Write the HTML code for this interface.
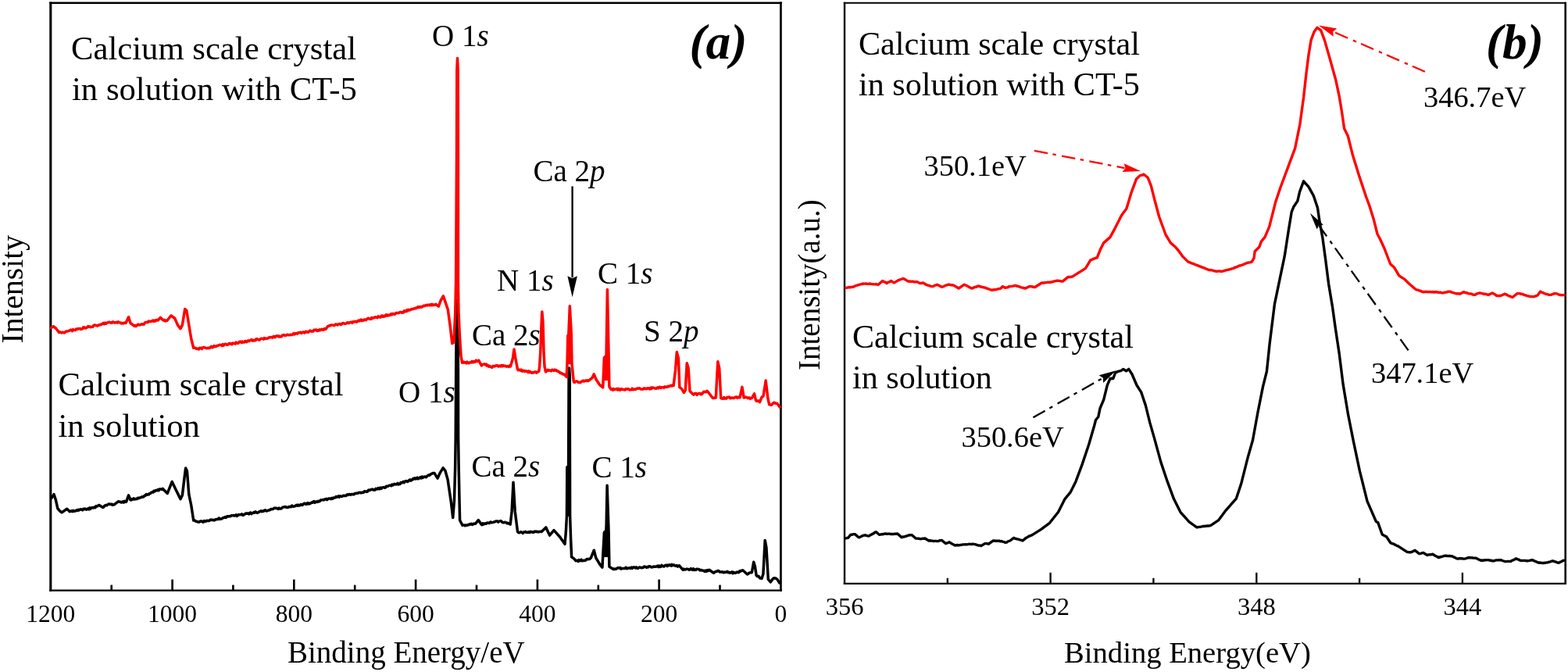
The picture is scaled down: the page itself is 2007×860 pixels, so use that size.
<!DOCTYPE html>
<html><head><meta charset="utf-8"><title>XPS spectra</title>
<style>
html,body{margin:0;padding:0;background:#fff;}
svg{display:block;}
text{font-family:"Liberation Serif","Times New Roman",serif;fill:#000;}
.tk{font-size:31.5px;}
.tkb{font-size:32.5px;}
.big{font-size:42.3px;}
.lb{font-size:38px;}
.ev{font-size:38px;}
.ax{font-size:39px;}
.pl{font-size:60px;font-weight:bold;font-style:italic;}
.k{fill:none;stroke:#000;stroke-width:3.4;stroke-linejoin:round;stroke-linecap:round;}
.r{fill:none;stroke:#f00;stroke-width:3.4;stroke-linejoin:round;stroke-linecap:round;}
</style></head><body>
<svg width="2007" height="860" viewBox="0 0 2007 860">
<rect width="2007" height="860" fill="#fff"/>
<line x1="63.25" y1="3.70" x2="1000.80" y2="3.70" stroke="#000" stroke-width="2.4"/>
<line x1="63.25" y1="755.60" x2="1000.80" y2="755.60" stroke="#000" stroke-width="2.4"/>
<line x1="64.80" y1="2.50" x2="64.80" y2="756.80" stroke="#000" stroke-width="3.1"/>
<line x1="999.40" y1="2.50" x2="999.40" y2="756.80" stroke="#000" stroke-width="2.8"/>
<line x1="1079.80" y1="3.80" x2="2005.00" y2="3.80" stroke="#000" stroke-width="2.1"/>
<line x1="1079.80" y1="746.80" x2="2005.00" y2="746.80" stroke="#000" stroke-width="2.2"/>
<line x1="1081.00" y1="2.75" x2="1081.00" y2="747.90" stroke="#000" stroke-width="2.4"/>
<line x1="2003.70" y1="2.75" x2="2003.70" y2="747.90" stroke="#000" stroke-width="2.6"/>
<line x1="921.5" y1="755.6" x2="921.5" y2="748.6" stroke="#000" stroke-width="2.6"/>
<line x1="843.6" y1="755.6" x2="843.6" y2="741.6" stroke="#000" stroke-width="2.6"/>
<line x1="765.8" y1="755.6" x2="765.8" y2="748.6" stroke="#000" stroke-width="2.6"/>
<line x1="687.9" y1="755.6" x2="687.9" y2="741.6" stroke="#000" stroke-width="2.6"/>
<line x1="610.0" y1="755.6" x2="610.0" y2="748.6" stroke="#000" stroke-width="2.6"/>
<line x1="532.1" y1="755.6" x2="532.1" y2="741.6" stroke="#000" stroke-width="2.6"/>
<line x1="454.2" y1="755.6" x2="454.2" y2="748.6" stroke="#000" stroke-width="2.6"/>
<line x1="376.3" y1="755.6" x2="376.3" y2="741.6" stroke="#000" stroke-width="2.6"/>
<line x1="298.4" y1="755.6" x2="298.4" y2="748.6" stroke="#000" stroke-width="2.6"/>
<line x1="220.6" y1="755.6" x2="220.6" y2="741.6" stroke="#000" stroke-width="2.6"/>
<line x1="142.7" y1="755.6" x2="142.7" y2="748.6" stroke="#000" stroke-width="2.6"/>
<text x="999.4" y="796.2" class="tk" text-anchor="middle">0</text>
<text x="843.6" y="796.2" class="tk" text-anchor="middle">200</text>
<text x="687.9" y="796.2" class="tk" text-anchor="middle">400</text>
<text x="532.1" y="796.2" class="tk" text-anchor="middle">600</text>
<text x="376.3" y="796.2" class="tk" text-anchor="middle">800</text>
<text x="220.6" y="796.2" class="tk" text-anchor="middle">1000</text>
<text x="64.8" y="796.2" class="tk" text-anchor="middle">1200</text>
<line x1="1212.8" y1="746.8" x2="1212.8" y2="739.8" stroke="#000" stroke-width="2.3"/>
<line x1="1344.6" y1="746.8" x2="1344.6" y2="732.8" stroke="#000" stroke-width="2.3"/>
<line x1="1476.4" y1="746.8" x2="1476.4" y2="739.8" stroke="#000" stroke-width="2.3"/>
<line x1="1608.3" y1="746.8" x2="1608.3" y2="732.8" stroke="#000" stroke-width="2.3"/>
<line x1="1740.1" y1="746.8" x2="1740.1" y2="739.8" stroke="#000" stroke-width="2.3"/>
<line x1="1871.9" y1="746.8" x2="1871.9" y2="732.8" stroke="#000" stroke-width="2.3"/>
<text x="1081.0" y="787.3" class="tkb" text-anchor="middle">356</text>
<text x="1344.6" y="787.3" class="tkb" text-anchor="middle">352</text>
<text x="1608.3" y="787.3" class="tkb" text-anchor="middle">348</text>
<text x="1871.9" y="787.3" class="tkb" text-anchor="middle">344</text>
<path d="M66.0,637.4 L69.0,632.6 L71.4,639.8 L73.8,650.6 L76.7,654.1 L79.1,655.9 L85.7,651.2 L89.3,654.7 L90.4,654.2 L91.5,653.8 L92.6,654.7 L93.7,653.4 L94.8,654.3 L95.9,654.1 L97.0,653.6 L98.1,652.8 L99.1,653.5 L100.2,652.3 L101.3,652.9 L102.4,651.9 L103.5,651.8 L104.6,652.2 L105.6,652.8 L106.7,651.2 L107.8,651.7 L108.8,651.0 L109.8,651.7 L110.8,652.2 L111.8,651.3 L112.8,650.8 L113.8,651.8 L114.8,649.8 L115.8,651.3 L116.8,650.0 L117.8,649.6 L118.8,649.4 L119.8,650.0 L120.8,649.1 L121.9,649.6 L122.9,647.8 L123.9,648.1 L124.9,647.7 L126.0,646.7 L127.0,646.4 L131.7,649.4 L132.7,648.9 L133.8,647.3 L134.8,646.7 L135.8,646.4 L136.8,646.8 L137.9,645.7 L138.9,645.2 L139.9,644.9 L141.0,645.5 L142.0,645.4 L143.0,645.1 L144.0,646.2 L145.1,646.1 L146.1,645.8 L150.9,642.2 L152.0,641.7 L153.0,642.3 L154.1,642.3 L155.2,643.0 L156.2,642.7 L157.3,641.8 L158.4,643.2 L159.5,641.4 L160.5,642.0 L161.6,642.2 L164.6,633.8 L167.0,639.8 L168.1,640.1 L169.1,638.6 L170.2,639.0 L171.2,637.9 L172.2,638.9 L173.3,638.8 L174.3,638.2 L175.4,638.6 L176.4,637.2 L177.5,637.7 L178.5,637.2 L179.6,636.8 L180.7,636.5 L181.8,635.7 L182.8,636.0 L183.9,635.7 L185.0,634.3 L186.1,634.2 L187.2,632.5 L188.3,633.3 L189.3,632.7 L190.4,632.9 L191.5,631.4 L192.6,631.6 L193.6,630.2 L194.7,630.0 L195.8,630.1 L196.8,628.4 L197.9,628.9 L199.0,627.9 L200.0,627.4 L201.1,627.8 L202.1,626.6 L203.2,627.7 L204.2,626.0 L205.2,625.9 L206.2,625.9 L207.3,626.5 L208.3,625.4 L214.3,631.4 L220.2,616.5 L225.0,626.6 L231.0,638.6 L233.4,633.8 L235.8,613.5 L237.6,599.1 L239.4,602.7 L241.8,632.6 L244.8,647.0 L247.7,666.1 L248.9,665.7 L250.1,666.8 L251.3,667.3 L252.3,667.4 L253.3,668.1 L254.3,667.9 L255.3,668.0 L256.3,666.9 L257.3,667.1 L258.3,667.0 L259.3,668.1 L260.3,668.2 L261.3,666.6 L262.3,666.7 L263.3,667.3 L264.4,666.5 L265.5,666.3 L266.5,666.6 L267.6,666.6 L268.7,665.7 L269.8,665.0 L270.9,665.6 L272.0,665.3 L273.0,665.5 L274.1,666.0 L275.2,664.9 L276.2,665.1 L277.2,664.5 L278.2,664.5 L279.2,664.5 L280.2,663.0 L281.2,664.5 L282.2,664.1 L283.2,664.0 L284.2,663.7 L285.2,662.7 L286.2,662.5 L287.2,662.5 L288.3,661.5 L289.3,662.4 L290.4,661.0 L291.5,660.8 L292.5,660.9 L293.6,660.6 L294.7,660.8 L295.7,660.0 L296.8,659.7 L297.9,659.8 L298.9,659.5 L300.0,660.1 L301.0,659.7 L302.1,658.8 L303.1,660.4 L304.2,659.7 L305.2,658.6 L306.2,658.7 L307.3,658.7 L308.3,658.6 L309.4,657.9 L310.4,659.2 L311.4,659.4 L312.5,658.2 L313.5,658.0 L314.5,657.1 L315.6,657.0 L316.6,657.3 L317.7,657.0 L318.7,657.9 L319.7,656.4 L320.8,656.0 L321.8,657.7 L322.9,656.7 L323.9,656.5 L324.9,655.6 L326.0,656.2 L327.0,654.9 L328.1,655.7 L329.1,656.4 L330.1,656.0 L331.2,655.4 L332.2,654.4 L333.3,654.4 L334.3,653.7 L335.3,654.7 L336.4,654.1 L337.4,654.3 L338.4,653.2 L339.5,652.8 L340.5,653.8 L341.6,653.9 L342.6,653.4 L343.6,653.1 L344.7,653.0 L345.7,652.6 L346.8,651.4 L347.8,651.7 L348.8,651.6 L349.9,651.1 L350.9,650.3 L352.0,650.1 L353.0,650.5 L354.0,650.3 L355.1,651.0 L356.1,651.4 L357.2,650.2 L358.2,651.1 L359.2,651.0 L360.3,650.8 L361.3,649.5 L362.3,649.0 L363.4,648.9 L364.4,648.7 L365.5,648.5 L366.5,649.2 L367.5,649.6 L368.6,649.3 L369.6,648.5 L370.7,648.7 L371.7,648.2 L372.7,648.6 L373.7,647.0 L374.7,648.0 L375.7,648.3 L376.7,647.9 L377.7,647.7 L378.7,646.9 L379.7,646.2 L380.7,647.2 L381.7,646.1 L382.7,646.9 L383.7,647.0 L384.7,645.7 L385.7,645.6 L386.7,646.5 L387.7,645.8 L388.7,644.6 L389.7,644.3 L390.7,644.2 L391.7,645.5 L392.7,645.1 L393.7,643.6 L394.7,644.8 L395.7,644.0 L396.7,644.7 L397.8,643.8 L398.8,643.0 L399.9,643.2 L400.9,642.1 L401.9,641.6 L403.0,643.3 L404.0,642.4 L405.1,641.9 L406.1,642.5 L407.1,641.3 L408.2,641.9 L409.2,641.6 L410.2,640.1 L411.3,640.0 L412.3,639.8 L413.4,639.5 L414.4,639.9 L415.4,639.1 L416.5,639.1 L417.5,638.3 L418.6,639.7 L419.6,638.6 L420.6,638.1 L421.7,638.1 L422.7,638.1 L423.8,638.6 L424.8,637.4 L425.8,638.2 L426.9,637.1 L427.9,637.0 L429.0,636.8 L430.0,635.6 L431.0,636.2 L432.1,635.5 L433.1,634.9 L434.1,636.3 L435.2,634.8 L436.2,635.2 L437.3,635.5 L438.3,635.0 L439.3,634.3 L440.4,634.5 L441.4,634.3 L442.5,634.6 L443.5,633.8 L444.5,632.8 L445.6,633.5 L446.6,632.7 L447.7,632.5 L448.7,633.3 L449.7,632.6 L450.8,632.5 L451.8,632.7 L452.9,632.7 L453.9,631.6 L454.9,631.7 L456.0,631.3 L457.0,631.1 L458.0,631.3 L459.1,630.6 L460.1,630.5 L461.2,630.2 L462.2,630.9 L463.2,630.2 L464.3,630.4 L465.3,630.3 L466.4,628.7 L467.4,629.0 L468.4,628.9 L469.5,629.4 L470.5,629.0 L471.6,627.3 L472.6,627.1 L473.6,627.5 L474.7,626.5 L475.7,626.6 L476.8,626.0 L477.8,627.0 L478.8,627.0 L479.9,627.0 L480.9,625.3 L481.9,626.1 L483.0,625.8 L484.0,624.5 L485.1,625.8 L486.1,625.7 L487.1,624.0 L488.2,625.2 L489.2,623.9 L490.3,623.8 L491.3,623.6 L492.3,624.3 L493.4,623.8 L494.4,622.2 L495.5,622.4 L496.5,622.3 L497.5,621.7 L498.6,621.2 L499.6,621.2 L500.7,621.7 L501.7,620.1 L502.7,620.9 L503.8,620.4 L504.8,619.3 L505.8,619.7 L506.9,620.0 L507.9,619.5 L509.0,618.4 L510.0,620.0 L511.0,619.3 L512.1,619.4 L513.1,617.4 L514.2,617.5 L515.2,617.7 L516.3,616.4 L517.3,617.6 L518.4,616.2 L519.4,615.6 L520.5,615.8 L521.5,616.5 L522.6,615.9 L523.7,614.5 L524.7,613.9 L525.8,615.1 L526.8,614.1 L527.9,614.0 L528.9,612.4 L530.0,612.9 L531.0,611.8 L532.0,612.9 L533.1,612.2 L534.1,611.2 L535.1,612.8 L536.1,612.0 L537.1,612.1 L538.1,610.5 L539.2,611.8 L540.2,610.0 L541.2,611.4 L542.2,610.4 L543.2,610.0 L544.3,610.2 L545.3,610.8 L546.3,609.7 L547.4,608.8 L548.5,608.0 L549.6,608.4 L550.7,607.4 L551.7,606.6 L552.8,606.3 L553.9,605.6 L555.0,605.5 L556.1,605.6 L560.1,612.1 L563.4,604.8 L567.1,598.8 L569.9,602.3 L573.1,613.7 L577.2,641.4 L579.7,662.6 L581.5,640.0 L582.6,600.0 L583.2,560.0 L583.7,470.0 L584.4,400.0 L585.0,384.0 L585.8,384.0 L586.2,400.0 L586.4,470.0 L586.6,560.0 L587.2,600.0 L588.0,640.0 L588.6,665.8 L591.9,672.3 L593.0,671.9 L594.1,671.9 L595.1,672.8 L596.2,671.9 L597.3,672.3 L598.4,672.3 L599.4,671.4 L600.4,671.6 L601.5,670.7 L602.5,671.0 L603.5,670.3 L604.5,671.5 L605.5,670.9 L606.6,670.0 L607.6,670.4 L608.6,670.2 L612.3,665.6 L616.0,671.1 L617.0,671.7 L618.0,669.8 L619.1,671.0 L620.1,670.0 L621.1,669.9 L622.1,670.3 L623.1,669.2 L624.1,669.1 L625.2,669.3 L626.2,669.6 L627.2,668.4 L628.3,668.0 L629.3,668.9 L630.4,668.6 L631.5,668.4 L632.5,667.9 L633.6,667.7 L634.7,667.0 L635.7,667.1 L636.8,666.9 L637.8,668.2 L638.9,667.1 L640.0,666.9 L641.0,666.6 L642.1,667.4 L643.1,668.4 L644.1,668.8 L645.1,668.8 L646.1,668.3 L647.1,668.6 L648.2,669.0 L649.2,669.7 L650.2,669.4 L651.2,670.3 L652.2,670.3 L653.2,671.1 L655.1,654.4 L657.0,617.2 L659.2,654.4 L662.5,680.4 L663.6,681.5 L664.7,681.7 L665.9,681.1 L667.0,680.7 L668.1,681.4 L669.2,682.3 L670.2,681.0 L671.3,681.1 L672.4,680.4 L673.4,681.2 L674.5,681.3 L675.5,681.4 L676.6,680.8 L677.7,681.4 L678.7,680.4 L679.8,680.9 L680.9,680.6 L681.9,681.2 L683.0,681.4 L684.0,680.3 L685.0,680.1 L686.1,680.5 L687.1,680.2 L688.1,680.7 L689.1,680.4 L690.1,680.7 L691.1,680.3 L692.2,680.3 L693.2,680.4 L694.2,679.5 L698.8,674.9 L703.5,685.1 L709.0,678.6 L716.5,687.0 L723.0,696.3 L724.4,680.0 L725.4,661.0 L725.6,640.0 L725.8,598.0 L727.6,596.0 L728.1,480.0 L728.6,471.0 L729.2,480.0 L729.5,600.0 L729.6,660.0 L730.6,690.0 L731.6,712.8 L734.4,714.6 L737.0,717.7 L738.0,717.4 L739.0,717.2 L740.0,718.4 L741.0,716.7 L742.0,717.8 L743.0,717.5 L744.0,716.2 L745.0,717.8 L746.0,717.8 L747.0,717.2 L748.0,717.3 L749.0,717.4 L750.0,716.7 L751.0,715.5 L752.1,715.8 L753.1,715.4 L754.2,715.6 L755.2,715.1 L756.3,714.0 L760.3,704.2 L762.8,714.0 L767.7,722.1 L770.9,726.2 L773.4,681.4 L775.0,679.8 L775.8,690.0 L777.1,621.2 L779.1,681.4 L779.9,725.3 L784.0,727.8 L785.0,728.4 L786.0,727.9 L787.0,728.5 L788.0,728.0 L789.0,728.0 L790.0,727.0 L791.0,726.6 L792.0,726.8 L793.0,727.2 L794.0,726.6 L795.1,728.1 L796.1,727.5 L797.1,727.6 L798.1,727.5 L799.1,727.6 L800.1,727.2 L801.1,726.2 L802.1,727.7 L803.1,727.6 L804.1,727.0 L805.1,727.0 L806.1,727.0 L807.1,727.2 L808.2,726.0 L809.2,727.3 L810.2,726.2 L811.2,725.8 L812.2,726.2 L813.2,727.0 L814.3,725.9 L815.3,726.9 L816.3,727.4 L817.3,726.4 L818.3,726.1 L819.4,726.2 L820.4,726.6 L821.4,726.7 L822.4,726.3 L823.4,726.3 L824.5,725.1 L825.5,725.2 L826.5,725.4 L827.5,726.3 L828.5,725.4 L829.6,725.9 L830.6,724.7 L831.6,724.7 L832.6,725.1 L833.6,725.9 L834.6,725.8 L835.7,725.8 L836.7,724.9 L837.7,725.3 L838.7,725.2 L839.7,725.0 L840.8,724.9 L841.8,724.1 L842.8,725.6 L843.8,724.1 L844.8,725.6 L845.8,725.4 L846.9,723.4 L847.9,724.2 L848.9,724.8 L849.9,725.0 L850.9,723.9 L851.9,723.4 L853.0,723.2 L854.0,724.6 L855.0,723.0 L856.0,723.7 L857.0,722.7 L858.0,723.3 L859.1,724.1 L860.1,722.4 L861.1,723.6 L862.1,722.9 L863.1,723.2 L864.2,724.2 L865.2,724.1 L866.3,723.5 L867.4,725.1 L868.4,724.5 L869.5,723.9 L870.5,725.1 L874.0,729.2 L875.0,728.1 L876.1,729.1 L877.1,728.9 L878.1,728.5 L879.2,728.1 L880.2,728.5 L881.2,728.4 L882.3,729.3 L883.3,728.6 L884.4,727.6 L885.4,729.1 L886.5,729.3 L887.5,727.8 L888.6,729.5 L889.6,729.0 L890.7,729.4 L891.7,728.2 L892.8,728.3 L893.8,728.4 L894.9,728.6 L895.9,730.0 L896.9,729.6 L897.9,729.6 L898.9,730.1 L899.9,730.2 L900.9,730.2 L901.9,731.5 L903.1,730.2 L904.2,731.2 L905.4,729.7 L906.5,730.5 L907.7,729.2 L913.5,733.3 L914.6,732.2 L915.8,731.6 L917.0,731.5 L918.1,730.9 L919.2,730.4 L920.2,730.9 L921.3,732.1 L922.4,732.1 L923.4,732.1 L924.5,731.8 L925.5,732.5 L926.6,732.7 L927.7,732.0 L928.7,732.4 L929.8,732.1 L930.9,731.3 L931.9,732.8 L933.0,732.3 L934.0,733.0 L935.1,732.9 L936.1,732.3 L937.2,732.0 L938.2,733.8 L939.3,732.3 L940.3,733.1 L941.4,733.3 L942.4,732.6 L943.5,732.1 L944.5,732.6 L945.5,732.7 L946.6,730.9 L947.6,731.3 L948.6,730.2 L949.7,730.3 L950.7,729.8 L956.5,735.0 L957.7,734.3 L958.8,733.4 L960.0,732.9 L961.1,732.6 L962.3,732.7 L964.7,719.3 L966.4,725.1 L968.1,736.2 L969.1,737.6 L970.1,737.3 L971.1,737.4 L972.1,739.3 L973.1,740.1 L974.1,739.5 L975.1,740.2 L976.9,734.4 L979.2,691.4 L980.9,700.7 L983.3,741.4 L986.2,744.9 L989.7,740.2 L990.7,739.7 L991.8,740.1 L992.8,740.1 L993.9,740.8 L994.9,741.4 L997.8,746.0" class="k" style="stroke-width:3.5"/>
<path d="M65.4,419.5 L68.4,417.7 L72.0,420.7 L75.5,425.4 L76.7,424.8 L77.9,425.3 L79.1,426.0 L80.1,425.2 L81.2,425.5 L82.2,425.9 L83.3,425.3 L84.3,424.3 L85.4,424.0 L86.5,423.9 L87.5,423.6 L88.5,423.2 L89.5,422.9 L90.5,422.1 L91.5,422.4 L92.5,423.6 L93.5,421.7 L94.5,422.3 L95.5,422.3 L96.5,422.6 L97.5,421.1 L98.5,421.0 L99.5,421.3 L100.5,420.6 L101.5,420.7 L102.6,420.5 L103.6,421.4 L104.6,420.9 L105.6,420.8 L106.7,418.8 L107.7,418.7 L108.7,419.8 L109.7,419.9 L110.7,418.9 L111.8,418.9 L112.8,417.5 L113.8,418.3 L114.8,417.9 L115.8,418.8 L116.8,418.4 L117.8,418.2 L118.8,418.2 L119.8,416.6 L120.8,416.1 L121.8,416.0 L122.8,416.5 L123.8,416.7 L124.8,417.0 L125.8,415.9 L126.9,416.1 L128.0,415.6 L129.0,415.6 L130.1,414.7 L131.2,414.6 L132.3,413.3 L133.4,414.6 L134.5,413.2 L135.5,414.3 L136.6,413.5 L137.7,412.9 L138.7,412.5 L139.8,412.2 L140.8,412.4 L141.9,413.2 L142.9,413.3 L143.9,412.1 L145.0,412.0 L146.0,412.9 L147.1,413.1 L148.1,412.7 L149.1,412.3 L150.2,413.1 L151.2,411.9 L152.3,412.5 L153.3,412.9 L154.4,412.9 L155.5,414.0 L156.6,413.4 L157.7,414.0 L158.8,413.3 L159.9,412.9 L161.0,413.5 L164.6,405.7 L167.0,413.5 L171.8,417.1 L172.8,416.4 L173.9,417.6 L174.9,416.9 L175.9,415.8 L177.0,415.1 L178.0,415.8 L179.1,415.9 L180.1,415.2 L181.1,414.7 L182.2,415.3 L183.2,414.7 L184.2,415.1 L185.3,413.3 L186.3,412.4 L187.3,412.6 L188.4,412.3 L189.4,412.4 L190.5,410.9 L191.5,411.1 L192.6,411.6 L193.7,411.3 L194.7,410.7 L195.8,410.0 L196.9,411.4 L198.0,410.0 L199.1,410.9 L200.1,409.6 L201.2,409.5 L202.3,409.9 L205.3,406.3 L208.3,409.3 L209.4,410.1 L210.5,409.4 L211.5,410.9 L212.6,410.3 L213.7,410.5 L219.0,403.9 L223.8,407.5 L227.4,415.9 L231.0,420.7 L233.4,415.9 L236.7,395.5 L238.8,397.3 L242.4,419.5 L244.8,433.8 L247.7,445.2 L248.9,445.0 L250.1,445.4 L251.3,446.4 L252.3,446.1 L253.3,446.5 L254.3,447.0 L255.3,445.3 L256.3,445.7 L257.3,445.2 L258.3,446.6 L259.3,444.9 L260.3,444.6 L261.3,444.5 L262.3,445.1 L263.3,445.2 L264.4,445.8 L265.5,445.6 L266.5,445.2 L267.6,445.5 L268.7,445.2 L269.8,443.9 L270.9,443.4 L272.0,444.8 L273.0,444.2 L274.1,442.6 L275.2,443.4 L276.2,443.5 L277.2,442.8 L278.2,442.5 L279.2,442.3 L280.2,441.7 L281.2,441.2 L282.2,441.6 L283.2,441.5 L284.2,442.5 L285.2,440.6 L286.2,442.1 L287.2,441.0 L288.3,440.3 L289.3,440.5 L290.4,441.3 L291.5,441.1 L292.5,440.2 L293.6,439.3 L294.7,440.1 L295.7,439.7 L296.8,440.7 L297.9,439.1 L298.9,439.4 L300.0,439.5 L301.0,440.1 L302.1,438.2 L303.1,438.8 L304.2,439.4 L305.2,439.1 L306.2,437.5 L307.3,437.3 L308.3,437.2 L309.4,438.7 L310.4,437.2 L311.4,438.0 L312.5,438.1 L313.5,436.8 L314.5,436.5 L315.6,437.7 L316.6,436.8 L317.7,435.9 L318.7,436.6 L319.7,435.7 L320.8,435.4 L321.8,434.7 L322.9,436.0 L323.9,435.3 L324.9,436.0 L326.0,435.3 L327.0,435.7 L328.1,433.7 L329.1,434.0 L330.1,434.3 L331.2,435.1 L332.2,435.0 L333.3,433.7 L334.3,433.2 L335.3,433.4 L336.4,433.4 L337.4,434.1 L338.4,432.5 L339.5,433.6 L340.5,433.3 L341.6,433.3 L342.6,433.0 L343.6,432.5 L344.7,431.8 L345.7,431.7 L346.8,431.6 L347.8,431.7 L348.8,432.1 L349.9,430.6 L350.9,430.6 L352.0,431.6 L353.0,430.4 L354.0,429.9 L355.1,429.7 L356.1,430.6 L357.2,430.0 L358.2,431.1 L359.2,430.8 L360.3,430.8 L361.3,429.3 L362.3,428.7 L363.4,428.6 L364.4,429.3 L365.5,429.5 L366.5,428.9 L367.5,428.3 L368.6,428.5 L369.6,428.7 L370.7,428.7 L371.7,428.2 L372.7,428.5 L373.7,428.5 L374.7,428.0 L375.7,426.7 L376.7,428.0 L377.7,426.7 L378.7,427.1 L379.7,426.5 L380.7,427.1 L381.7,425.8 L382.7,425.8 L383.7,425.6 L384.7,425.2 L385.7,426.5 L386.7,425.7 L387.7,425.1 L388.7,425.0 L389.7,426.0 L390.7,424.9 L391.7,424.2 L392.7,425.1 L393.7,424.7 L394.7,425.2 L395.7,424.0 L396.7,423.1 L397.7,423.7 L398.8,424.2 L399.8,424.1 L400.8,424.1 L401.8,422.2 L402.9,422.6 L403.9,422.1 L404.9,422.1 L405.9,423.5 L407.0,422.6 L408.0,423.1 L409.0,421.9 L410.0,422.7 L411.1,421.8 L412.1,421.2 L413.1,422.1 L414.1,422.3 L415.2,420.5 L416.2,421.3 L417.2,421.0 L419.6,417.4 L420.6,417.5 L421.7,416.5 L422.7,416.7 L423.8,416.1 L424.8,416.0 L425.8,416.0 L426.9,416.5 L427.9,416.5 L429.0,415.4 L430.0,414.9 L431.0,415.3 L432.1,415.9 L433.1,414.7 L434.1,414.8 L435.2,414.5 L436.2,415.5 L437.3,414.8 L438.3,413.7 L439.3,413.6 L440.4,414.1 L441.4,414.2 L442.5,414.2 L443.5,413.8 L444.5,412.8 L445.6,412.7 L446.6,413.6 L447.7,412.8 L448.7,412.3 L449.7,412.2 L450.8,413.2 L451.8,411.8 L452.9,412.1 L453.9,411.4 L454.9,411.3 L456.0,412.0 L457.0,412.1 L458.0,410.6 L459.1,410.1 L460.1,410.9 L461.2,409.7 L462.2,409.1 L463.2,410.6 L464.3,409.5 L465.3,410.1 L466.4,409.0 L467.4,409.0 L468.4,409.6 L469.5,408.5 L470.5,407.7 L471.6,407.2 L472.6,408.1 L473.6,408.0 L474.7,408.4 L475.7,406.5 L476.8,407.4 L477.8,406.7 L478.8,406.7 L479.9,405.8 L480.9,405.9 L481.9,406.1 L483.0,406.7 L484.0,404.9 L485.1,405.4 L486.1,405.9 L487.1,406.0 L488.2,404.2 L489.2,403.9 L490.3,405.3 L491.3,404.2 L492.3,404.9 L493.4,403.8 L494.4,402.7 L495.5,404.2 L496.5,403.0 L497.5,403.8 L498.6,403.0 L499.6,403.2 L500.7,401.7 L501.7,402.7 L502.7,401.4 L503.8,401.6 L504.8,402.2 L505.8,402.0 L506.9,400.5 L507.9,400.4 L509.0,400.5 L510.0,400.6 L511.0,400.1 L512.1,399.4 L513.1,399.4 L514.2,400.2 L515.2,399.5 L516.3,400.0 L517.3,397.9 L518.4,398.6 L519.4,398.7 L520.5,396.9 L521.5,398.2 L522.6,396.4 L523.7,397.1 L524.7,396.6 L525.8,396.5 L526.8,395.5 L527.9,395.4 L528.9,395.4 L530.0,394.9 L531.0,394.5 L532.0,394.7 L533.0,394.0 L534.0,393.8 L535.0,392.7 L536.0,393.6 L537.0,393.1 L538.0,392.4 L539.0,393.2 L540.0,393.0 L541.0,392.1 L542.0,391.3 L543.0,391.6 L544.0,391.4 L545.0,390.5 L546.0,390.4 L547.0,390.9 L548.0,390.1 L549.0,390.6 L550.1,390.7 L551.1,389.6 L552.1,390.7 L553.1,389.4 L554.1,390.6 L555.1,390.0 L556.5,390.2 L557.9,389.3 L561.4,392.1 L564.2,384.4 L567.4,378.8 L570.5,387.9 L573.3,396.3 L576.0,415.8 L578.8,439.5 L580.9,438.1 L582.7,401.9 L583.6,360.0 L584.5,200.0 L584.8,90.0 L585.5,74.5 L586.2,90.0 L586.4,200.0 L586.4,360.0 L587.0,400.0 L588.4,429.8 L590.0,454.9 L591.5,464.3 L592.6,464.2 L593.6,463.2 L594.7,464.1 L595.7,463.7 L596.8,464.8 L597.9,463.1 L598.9,464.5 L600.0,464.7 L601.0,464.0 L602.1,463.5 L603.2,463.9 L604.2,462.4 L605.3,463.8 L606.3,462.6 L607.4,463.3 L608.5,463.0 L609.5,461.2 L610.6,462.2 L611.6,462.3 L612.7,461.2 L616.4,468.0 L617.7,466.4 L618.9,466.2 L620.2,465.8 L621.3,466.9 L622.4,466.2 L623.5,468.2 L624.5,467.5 L625.6,469.1 L626.7,468.3 L627.8,469.6 L628.8,469.5 L629.8,470.2 L630.8,468.6 L631.8,468.6 L632.8,468.9 L633.8,468.4 L634.9,467.7 L635.9,467.9 L636.9,467.7 L637.9,469.1 L638.9,468.5 L639.9,468.0 L640.9,468.9 L642.0,467.5 L643.0,468.8 L644.1,467.5 L645.1,468.4 L646.2,468.6 L647.2,468.2 L648.3,469.2 L649.3,468.7 L650.4,468.8 L651.4,469.4 L652.5,467.9 L653.5,468.8 L656.5,458.2 L658.0,446.9 L659.8,458.2 L662.5,472.6 L663.5,473.8 L664.5,473.4 L665.5,473.1 L666.5,474.2 L667.5,473.4 L668.5,475.1 L669.6,474.5 L670.6,474.3 L671.6,475.4 L672.6,475.0 L673.6,474.7 L674.6,475.6 L675.6,476.2 L676.6,474.9 L677.6,476.6 L678.6,475.6 L679.6,476.5 L680.7,477.3 L681.7,476.6 L682.7,476.9 L683.7,476.4 L684.7,475.9 L685.7,476.0 L686.7,477.1 L689.8,475.0 L690.6,469.0 L691.8,450.0 L692.7,423.0 L693.8,399.0 L694.8,410.0 L695.3,423.0 L696.0,450.0 L697.0,469.0 L698.5,476.0 L700.3,474.0 L701.4,473.3 L702.4,474.3 L703.5,473.9 L704.5,474.1 L705.6,474.8 L706.7,473.3 L707.7,473.5 L708.8,474.4 L709.8,473.1 L710.9,474.1 L711.9,473.6 L712.9,474.8 L713.9,474.8 L714.9,475.8 L715.9,476.0 L717.0,477.3 L718.0,477.8 L719.0,477.5 L720.0,478.8 L721.0,479.0 L722.0,478.9 L723.0,480.1 L725.2,482.4 L726.0,465.8 L726.8,429.5 L727.8,428.0 L729.3,391.7 L731.3,428.0 L732.0,465.8 L734.3,488.4 L735.4,489.4 L736.6,488.2 L737.7,488.1 L738.8,488.1 L740.0,489.3 L741.1,489.2 L742.1,489.7 L743.2,489.3 L744.2,488.3 L745.3,487.8 L746.3,487.1 L747.4,488.1 L748.4,487.7 L749.5,487.1 L750.5,487.4 L751.6,486.8 L752.6,487.5 L753.7,486.9 L754.7,486.2 L757.9,483.7 L760.3,478.8 L762.8,485.3 L767.7,492.7 L771.7,495.9 L773.4,457.7 L775.0,456.0 L775.8,470.0 L777.4,370.6 L779.9,495.0 L782.3,498.4 L783.3,497.9 L784.4,499.2 L785.4,497.5 L786.4,498.5 L787.5,498.2 L788.5,497.9 L789.6,497.5 L790.6,499.0 L791.6,497.4 L792.7,498.5 L793.7,499.3 L794.7,497.7 L795.8,497.8 L796.8,498.6 L797.8,498.4 L798.9,498.7 L799.9,499.0 L801.0,497.7 L802.0,498.0 L803.0,498.0 L804.1,497.5 L805.1,498.4 L806.1,499.1 L807.1,498.9 L808.2,498.7 L809.2,497.2 L810.2,498.8 L811.2,498.6 L812.2,498.0 L813.2,498.5 L814.3,497.8 L815.3,497.3 L816.3,497.0 L817.3,497.2 L818.3,496.8 L819.4,497.3 L820.4,498.1 L821.4,497.9 L822.4,498.2 L823.4,497.9 L824.5,496.9 L825.5,497.4 L826.5,497.2 L827.5,497.8 L828.5,497.2 L829.6,496.7 L830.6,497.4 L831.6,497.9 L832.6,496.4 L833.6,497.7 L834.6,495.9 L835.7,496.3 L836.7,496.2 L837.7,496.7 L838.7,497.1 L839.7,497.3 L840.8,496.8 L841.8,495.8 L842.8,496.8 L843.8,495.6 L844.8,495.2 L845.8,496.4 L846.9,495.8 L847.9,495.8 L848.9,495.6 L849.9,496.1 L850.9,494.9 L851.9,495.5 L853.0,495.1 L854.0,495.3 L855.0,494.3 L856.0,494.7 L857.0,494.3 L858.0,493.6 L859.1,493.3 L860.1,494.0 L861.1,492.8 L862.1,493.5 L864.5,474.0 L866.3,450.5 L868.4,458.4 L869.8,495.4 L872.8,498.0 L875.3,502.5 L877.3,499.3 L879.2,464.8 L881.1,471.1 L883.0,500.6 L886.9,504.4 L887.9,505.2 L889.0,503.7 L890.0,503.5 L891.1,503.6 L892.1,505.3 L893.2,504.1 L894.2,503.7 L895.3,503.5 L896.3,503.5 L897.4,504.8 L898.4,504.4 L900.9,501.2 L901.9,501.5 L902.9,501.6 L904.0,501.7 L905.0,500.3 L906.0,501.2 L912.4,509.5 L913.7,509.5 L915.0,508.8 L916.3,508.9 L918.8,462.8 L920.7,471.1 L922.7,509.5 L923.7,510.1 L924.7,510.1 L925.7,510.2 L926.7,508.5 L927.7,510.0 L928.7,510.1 L929.7,510.1 L930.7,508.4 L931.7,508.5 L932.7,508.3 L933.7,508.1 L934.7,509.7 L935.7,509.6 L936.7,508.9 L937.7,509.2 L938.8,509.6 L939.8,509.2 L940.8,508.5 L941.9,508.1 L942.9,508.1 L943.9,509.4 L944.9,508.3 L946.0,508.5 L947.0,508.9 L949.9,495.4 L952.1,508.9 L953.1,508.8 L954.1,508.1 L955.2,508.6 L956.2,508.7 L957.2,509.6 L958.2,509.0 L959.2,509.0 L960.3,510.3 L961.3,509.4 L962.3,509.5 L965.5,503.8 L967.4,512.1 L968.4,513.3 L969.4,513.3 L970.5,512.7 L971.5,513.9 L972.5,514.6 L975.1,508.2 L977.0,507.0 L980.2,487.1 L982.8,509.5 L984.7,517.8 L985.8,517.7 L986.8,518.3 L987.9,517.8 L990.4,515.3 L991.5,515.3 L992.6,516.3 L993.8,516.3 L994.9,516.5 L998.1,521.0" class="r" style="stroke-width:3.5"/>
<path d="M773.2,457 L775.3,455.5 L776.3,420 L778.4,420 L779.4,487 L773,487 Z" fill="#f00"/>
<path d="M726.2,431 L727.8,428 L728.5,400 L730.2,400 L731.2,466 L726,466 Z" fill="#f00"/>
<path d="M1082.4,689.0 L1083.9,688.5 L1085.4,688.4 L1089.0,684.2 L1090.8,684.2 L1092.5,683.6 L1094.3,683.6 L1099.1,687.8 L1100.8,687.4 L1102.5,686.4 L1104.1,685.7 L1105.8,685.2 L1107.5,684.8 L1109.1,685.4 L1110.7,685.9 L1112.3,686.0 L1113.8,684.8 L1115.3,684.2 L1116.8,683.3 L1118.3,682.6 L1119.8,681.4 L1121.3,680.7 L1125.4,684.2 L1127.1,684.0 L1128.8,683.6 L1130.4,683.7 L1132.1,683.1 L1133.8,683.0 L1135.4,683.4 L1137.0,683.1 L1138.6,683.1 L1140.2,683.5 L1141.8,683.5 L1143.4,683.6 L1145.2,683.2 L1147.0,683.3 L1148.8,683.0 L1154.1,687.8 L1155.7,687.0 L1157.3,687.0 L1158.9,686.4 L1160.5,686.0 L1162.1,685.4 L1163.7,684.8 L1165.5,684.7 L1167.3,684.8 L1172.1,689.0 L1173.9,689.1 L1175.7,689.2 L1177.5,689.7 L1179.3,689.6 L1180.9,689.2 L1182.4,689.4 L1184.0,689.0 L1188.8,692.0 L1190.3,691.8 L1191.9,692.0 L1193.4,692.1 L1195.0,692.6 L1196.5,692.4 L1198.1,692.4 L1199.6,692.6 L1201.1,692.5 L1202.6,691.8 L1204.1,691.7 L1205.6,691.4 L1210.3,695.6 L1211.9,695.0 L1213.5,694.6 L1215.1,693.8 L1216.9,695.0 L1218.7,696.0 L1220.5,696.9 L1222.3,698.0 L1224.0,697.7 L1225.6,697.5 L1227.2,697.8 L1228.9,697.5 L1230.5,697.4 L1232.2,696.9 L1233.8,696.9 L1235.5,696.8 L1237.1,696.9 L1238.7,696.6 L1240.2,696.3 L1241.8,696.4 L1243.4,696.5 L1245.0,696.2 L1246.5,696.4 L1248.1,696.7 L1249.6,697.1 L1251.2,697.7 L1252.7,698.1 L1254.3,698.0 L1255.8,698.6 L1260.6,695.6 L1262.2,695.6 L1263.8,695.8 L1265.4,696.2 L1271.3,692.0 L1272.8,692.0 L1274.4,692.2 L1275.9,692.1 L1277.5,692.2 L1279.0,692.2 L1280.6,692.8 L1282.1,692.6 L1283.7,693.3 L1285.3,693.6 L1286.9,694.4 L1288.4,694.1 L1289.9,693.0 L1291.4,692.5 L1292.9,692.0 L1297.6,688.4 L1299.1,689.1 L1300.6,689.5 L1302.1,689.9 L1303.6,690.2 L1305.4,690.8 L1307.2,691.2 L1309.0,692.0 L1313.2,688.4 L1314.8,687.7 L1316.4,686.6 L1318.0,685.9 L1319.6,685.3 L1321.2,684.6 L1332.3,677.6 L1343.5,669.3 L1354.6,655.3 L1363.0,638.6 L1370.0,630.2 L1377.0,616.2 L1385.3,593.9 L1393.7,568.8 L1400.6,545.0 L1402.5,537.5 L1405.8,533.5 L1408.0,522.7 L1412.7,511.5 L1417.3,492.9 L1421.0,484.5 L1422.9,484.2 L1424.8,484.5 L1427.6,477.1 L1429.4,476.1 L1431.3,475.2 L1433.2,474.9 L1435.0,474.3 L1437.8,472.4 L1441.5,474.8 L1444.8,472.4 L1449.0,479.0 L1455.0,493.0 L1460.7,501.9 L1466.3,518.6 L1471.8,540.9 L1477.4,560.4 L1485.8,591.1 L1494.2,616.2 L1502.5,638.6 L1510.9,655.3 L1522.1,667.9 L1531.8,674.8 L1533.4,674.7 L1535.1,674.4 L1536.7,674.2 L1538.3,673.9 L1540.0,673.5 L1541.6,673.5 L1543.2,673.3 L1544.9,673.0 L1546.5,673.0 L1548.2,672.9 L1549.8,672.4 L1559.5,665.9 L1569.3,652.8 L1582.3,638.2 L1588.8,618.6 L1597.0,586.1 L1603.5,563.3 L1610.0,527.5 L1616.5,494.9 L1621.4,475.4 L1625.1,440.0 L1631.5,388.8 L1637.9,358.1 L1644.3,327.4 L1649.4,294.2 L1653.2,271.2 L1655.8,264.8 L1660.9,257.1 L1663.5,245.6 L1668.6,231.8 L1675.0,239.2 L1681.4,250.7 L1686.5,266.0 L1689.1,283.9 L1692.9,304.4 L1696.7,332.5 L1700.6,363.2 L1705.7,393.9 L1709.3,420.0 L1714.2,452.6 L1719.1,491.6 L1725.6,530.7 L1732.1,563.3 L1740.3,602.4 L1750.0,641.4 L1761.4,667.5 L1763.7,668.6 L1769.2,684.0 L1771.1,685.0 L1772.9,686.1 L1774.8,687.1 L1779.7,694.5 L1781.3,695.4 L1783.0,695.9 L1784.6,696.5 L1786.2,697.5 L1787.9,698.3 L1789.5,698.8 L1800.6,706.2 L1802.2,706.6 L1803.9,706.7 L1805.5,706.8 L1807.4,706.2 L1809.2,705.2 L1811.1,704.3 L1816.6,708.6 L1818.2,708.3 L1819.9,707.8 L1821.5,707.4 L1823.4,708.3 L1825.2,709.5 L1827.1,710.5 L1828.8,709.9 L1830.4,709.8 L1832.1,709.7 L1833.8,709.2 L1835.7,710.4 L1837.5,711.4 L1839.3,712.3 L1841.2,713.5 L1842.9,713.0 L1844.6,712.5 L1846.4,712.1 L1848.1,711.5 L1849.8,711.1 L1851.5,711.3 L1853.3,711.6 L1855.0,711.3 L1856.8,711.7 L1858.5,711.7 L1860.0,712.6 L1861.5,713.2 L1863.1,714.0 L1864.6,714.8 L1866.2,715.1 L1867.8,714.5 L1869.4,714.8 L1870.9,714.6 L1872.5,715.0 L1874.1,715.1 L1875.7,714.8 L1877.3,714.4 L1879.0,713.7 L1880.6,713.5 L1882.3,713.7 L1884.0,713.8 L1885.8,714.1 L1887.5,714.1 L1889.2,714.2 L1890.8,715.0 L1892.3,715.9 L1893.9,716.5 L1895.4,717.2 L1897.0,717.0 L1898.7,717.3 L1900.3,716.7 L1901.9,716.9 L1903.6,716.6 L1905.2,716.6 L1906.8,717.2 L1908.5,717.2 L1910.1,717.8 L1911.8,717.9 L1913.4,717.3 L1915.0,716.9 L1916.7,716.9 L1918.3,716.7 L1920.0,716.6 L1921.5,716.8 L1923.0,717.5 L1924.6,718.0 L1926.1,718.5 L1927.9,718.6 L1929.8,718.4 L1931.7,718.4 L1933.5,718.5 L1935.2,717.4 L1936.9,716.8 L1938.6,716.0 L1940.3,714.8 L1942.1,715.6 L1944.0,716.2 L1945.8,717.2 L1947.5,717.5 L1949.2,717.4 L1951.0,717.4 L1952.7,717.5 L1954.4,717.8 L1956.1,717.7 L1957.8,717.4 L1959.5,717.0 L1961.2,716.6 L1962.9,717.4 L1964.6,718.2 L1966.3,718.8 L1968.0,719.7 L1969.5,720.2 L1971.0,720.0 L1972.6,720.4 L1974.1,720.5 L1975.9,720.5 L1977.8,720.3 L1979.7,719.9 L1981.5,719.7 L1983.0,719.1 L1984.6,718.8 L1986.2,718.1 L1987.7,717.8 L1989.5,718.6 L1991.4,719.0 L1993.2,719.9 L1995.1,720.3 L1996.8,719.4 L1998.4,718.7 L2000.1,717.8 L2001.8,717.2" class="k"/>
<path d="M725,597 L729.6,597 L729.7,661 L725.2,661 Z" fill="#000"/>
<path d="M772.4,680.5 L774.5,678.5 L776.6,650 L778.6,650 L779.3,713 L772.4,713 Z" fill="#000"/>
<path d="M1082.4,368.4 L1084.0,368.2 L1085.6,367.8 L1087.2,367.5 L1088.8,367.7 L1090.4,367.3 L1092.0,367.2 L1094.0,366.2 L1095.9,365.5 L1097.9,364.8 L1099.7,364.3 L1101.5,363.9 L1103.3,363.5 L1105.1,363.0 L1106.7,363.1 L1108.3,363.0 L1109.9,363.4 L1111.5,363.4 L1113.1,363.0 L1114.7,363.3 L1116.3,363.6 L1117.9,363.8 L1119.5,363.9 L1121.0,363.7 L1122.6,364.2 L1124.2,364.2 L1129.6,359.5 L1131.4,360.6 L1133.2,361.2 L1135.0,362.5 L1136.8,361.2 L1138.6,360.8 L1140.4,359.5 L1142.5,360.8 L1144.6,361.9 L1149.4,358.9 L1151.2,358.2 L1153.0,357.5 L1154.7,356.9 L1156.5,356.5 L1162.5,360.1 L1164.0,360.0 L1165.6,360.4 L1167.1,360.3 L1168.7,360.2 L1170.2,360.8 L1171.8,360.8 L1173.3,360.7 L1174.9,361.1 L1176.5,362.1 L1178.1,362.5 L1179.8,362.3 L1181.6,361.9 L1185.2,364.2 L1186.9,364.8 L1188.6,365.3 L1190.2,365.9 L1191.9,366.3 L1193.6,366.6 L1195.1,366.2 L1196.6,365.2 L1198.1,364.9 L1199.6,364.2 L1201.1,365.0 L1202.6,365.8 L1204.1,366.4 L1205.6,367.2 L1207.3,366.8 L1208.9,366.0 L1210.6,365.3 L1212.2,364.6 L1213.9,364.2 L1215.7,364.3 L1217.5,364.8 L1219.3,364.8 L1221.1,365.4 L1227.1,369.0 L1234.3,364.2 L1235.9,365.0 L1237.5,365.6 L1239.0,366.6 L1240.6,367.4 L1242.2,368.2 L1243.8,369.0 L1245.5,368.6 L1247.2,367.5 L1248.8,367.4 L1250.5,366.6 L1252.2,366.0 L1254.0,366.5 L1255.8,367.0 L1257.6,367.6 L1259.4,367.8 L1260.9,368.2 L1262.5,368.8 L1264.0,369.6 L1265.5,369.6 L1267.0,370.5 L1268.6,371.0 L1270.1,371.4 L1271.6,370.8 L1273.2,370.8 L1274.7,370.5 L1276.3,370.3 L1277.8,369.6 L1279.4,369.6 L1280.9,369.0 L1283.3,366.6 L1285.1,367.5 L1286.9,368.4 L1288.4,367.9 L1289.9,367.7 L1291.4,366.8 L1292.9,366.6 L1294.7,366.4 L1296.5,366.1 L1298.2,365.6 L1300.0,365.4 L1301.8,366.2 L1303.6,366.5 L1305.4,367.2 L1307.2,367.8 L1309.0,368.2 L1310.8,368.8 L1312.6,369.0 L1314.5,368.0 L1316.5,367.2 L1318.4,366.4 L1320.0,366.6 L1321.6,367.0 L1323.1,367.4 L1324.7,367.5 L1333.0,362.2 L1334.5,361.9 L1336.0,362.1 L1337.5,361.7 L1339.0,361.6 L1340.5,361.3 L1342.0,361.3 L1343.5,361.2 L1345.0,361.2 L1346.5,360.7 L1348.0,360.5 L1349.5,359.9 L1351.0,359.6 L1352.5,359.3 L1354.0,359.1 L1355.5,359.4 L1357.1,359.7 L1358.7,360.0 L1360.2,360.1 L1366.5,354.9 L1368.1,354.4 L1369.7,354.5 L1371.2,354.4 L1372.8,353.9 L1381.2,348.6 L1389.5,343.4 L1395.8,332.9 L1397.5,332.3 L1399.2,331.4 L1400.8,330.9 L1402.5,330.1 L1404.2,329.8 L1408.4,319.3 L1412.6,310.9 L1420.9,303.6 L1427.2,292.1 L1435.6,275.4 L1441.9,267.0 L1448.2,246.1 L1454.4,229.3 L1458.6,225.1 L1460.4,224.2 L1462.1,224.0 L1463.9,223.0 L1469.1,227.2 L1473.3,237.7 L1477.5,254.4 L1483.7,277.5 L1492.1,300.5 L1498.4,310.9 L1504.7,316.3 L1509.3,321.9 L1514.0,328.4 L1520.5,334.9 L1522.3,335.7 L1524.2,336.4 L1526.1,337.2 L1527.9,337.7 L1529.5,338.6 L1531.0,339.0 L1532.6,339.6 L1534.1,340.2 L1535.7,340.9 L1537.2,341.4 L1538.8,342.1 L1540.3,342.7 L1541.8,343.1 L1543.4,344.0 L1545.0,344.5 L1546.5,345.1 L1548.0,345.6 L1549.6,345.5 L1551.2,345.9 L1552.7,346.1 L1554.2,346.8 L1555.8,347.0 L1557.3,347.2 L1558.9,347.1 L1560.4,346.9 L1562.0,347.2 L1563.5,347.2 L1565.1,347.0 L1566.6,346.7 L1568.2,346.1 L1569.8,345.7 L1571.3,345.4 L1572.9,345.0 L1574.4,344.7 L1576.0,344.1 L1577.5,343.7 L1579.1,343.3 L1580.6,342.2 L1582.2,342.0 L1583.7,341.4 L1585.2,340.5 L1586.8,339.9 L1588.3,339.7 L1589.9,339.0 L1591.5,338.6 L1593.0,337.7 L1594.6,337.2 L1596.1,336.5 L1597.7,336.2 L1599.3,335.9 L1600.8,335.6 L1602.4,334.9 L1605.1,330.2 L1606.1,321.9 L1607.9,320.0 L1611.7,316.3 L1614.5,308.8 L1619.1,303.3 L1621.9,296.7 L1624.7,290.2 L1632.6,258.8 L1638.9,240.0 L1648.3,214.8 L1657.7,189.7 L1664.0,158.3 L1668.7,123.7 L1671.8,95.4 L1675.0,70.3 L1678.1,51.4 L1682.2,40.4 L1686.0,35.3 L1690.7,38.9 L1695.4,51.4 L1701.7,73.4 L1709.6,101.7 L1714.3,123.7 L1717.4,142.5 L1720.6,164.5 L1725.3,174.0 L1731.6,199.1 L1739.4,224.2 L1748.8,252.5 L1752.5,262.3 L1758.3,280.8 L1763.0,299.5 L1766.5,306.0 L1772.0,318.0 L1776.6,330.0 L1779.7,338.0 L1784.6,342.3 L1790.8,352.8 L1798.2,357.7 L1804.3,363.8 L1811.7,370.0 L1813.3,370.9 L1815.0,371.2 L1816.6,371.8 L1818.2,372.2 L1819.9,373.2 L1821.5,373.7 L1823.3,373.5 L1825.2,373.5 L1827.1,373.4 L1828.9,373.7 L1830.6,373.4 L1832.2,373.8 L1833.8,373.5 L1835.5,374.0 L1837.2,373.5 L1838.8,373.7 L1840.6,374.2 L1842.4,374.1 L1844.3,374.3 L1846.1,374.9 L1847.8,374.7 L1849.4,374.1 L1851.0,374.1 L1852.7,373.5 L1854.3,373.1 L1856.0,373.1 L1857.6,373.9 L1859.3,374.4 L1860.9,374.9 L1862.8,375.4 L1864.6,375.7 L1866.5,375.6 L1868.3,376.2 L1869.9,375.4 L1871.6,374.7 L1873.2,373.7 L1874.7,374.1 L1876.2,374.8 L1877.7,374.8 L1879.2,375.6 L1880.8,375.9 L1882.3,375.9 L1883.8,376.3 L1885.3,377.1 L1886.8,377.4 L1888.6,377.0 L1890.4,375.9 L1892.3,375.4 L1894.1,374.9 L1895.7,375.4 L1897.3,375.4 L1898.9,376.2 L1900.4,376.3 L1902.0,376.4 L1903.6,377.0 L1905.2,377.4 L1906.8,376.6 L1908.5,375.7 L1910.1,374.9 L1911.6,375.9 L1913.2,376.5 L1914.8,377.9 L1916.3,378.6 L1918.2,378.5 L1920.0,378.6 L1921.5,378.1 L1923.0,377.5 L1924.6,376.8 L1926.1,376.2 L1927.8,376.8 L1929.4,377.8 L1931.0,378.6 L1932.7,379.2 L1934.3,379.8 L1936.0,380.5 L1942.1,375.5 L1943.6,375.6 L1945.2,375.6 L1946.8,376.3 L1948.3,376.2 L1949.8,376.9 L1951.4,377.6 L1953.0,377.9 L1954.5,378.6 L1956.2,378.9 L1957.9,379.4 L1959.7,379.5 L1961.4,379.6 L1963.1,379.8 L1964.7,379.1 L1966.4,378.6 L1968.0,378.0 L1971.7,373.1 L1973.3,374.1 L1975.0,374.6 L1976.6,375.5 L1978.4,376.1 L1980.3,376.5 L1982.2,377.2 L1984.0,377.4 L1985.8,377.1 L1987.7,376.3 L1989.6,375.7 L1991.4,375.5 L1993.0,376.0 L1994.7,376.7 L1996.3,377.4 L1997.8,377.5 L1999.3,377.6 L2000.9,377.6 L2002.4,377.4" class="r"/>
<line x1="732.6" y1="238.4" x2="732.6" y2="355.2" stroke="#000" stroke-width="2.3"/><path d="M732.6,380.2 L726.4,353.2 L732.6,356.2 L738.9,353.2 Z" fill="#000"/>
<line x1="1323.8" y1="192.8" x2="1439.5" y2="215.1" stroke="#f00" stroke-width="2.3" stroke-dasharray="17.5,6.5,4.5,7.4"/><path d="M1460.1,219.1 L1436.5,220.1 L1440.5,215.3 L1438.6,209.3 Z" fill="#f00"/>
<line x1="1823.9" y1="91.7" x2="1707.2" y2="40.9" stroke="#f00" stroke-width="2.3" stroke-dasharray="17.5,6.5,4.5,7.4"/><path d="M1687.9,32.5 L1711.2,36.6 L1706.2,40.5 L1706.8,46.7 Z" fill="#f00"/>
<line x1="1802.6" y1="448.4" x2="1688.6" y2="289.1" stroke="#000" stroke-width="2.3" stroke-dasharray="17.5,6.5,4.5,7.4"/><path d="M1677.0,272.8 L1693.9,287.8 L1688.1,288.3 L1685.7,293.6 Z" fill="#000"/>
<line x1="1322.4" y1="534.3" x2="1411.1" y2="484.1" stroke="#000" stroke-width="2.3" stroke-dasharray="17.5,6.5,4.5,7.4"/><path d="M1428.5,474.3 L1412.1,489.9 L1412.0,483.7 L1406.6,480.3 Z" fill="#000"/>
<text x="91.00" y="75.50" style="font-size:42.70px;">Calcium scale crystal</text>
<text x="92.00" y="128.20" style="font-size:42.70px;">in solution with CT-5</text>
<text x="74.50" y="506.20" style="font-size:42.70px;">Calcium scale crystal</text>
<text x="74.50" y="558.70" style="font-size:42.70px;">in solution</text>
<text x="1099.00" y="69.80" style="font-size:42.10px;">Calcium scale crystal</text>
<text x="1099.00" y="122.00" style="font-size:42.10px;">in solution with CT-5</text>
<text x="1091.00" y="444.80" style="font-size:42.10px;">Calcium scale crystal</text>
<text x="1091.00" y="497.00" style="font-size:42.10px;">in solution</text>
<text x="553.00" y="59.40" style="font-size:39.00px;">O 1<tspan font-style="italic">s</tspan></text>
<text x="682.50" y="232.00" style="font-size:39.00px;">Ca 2<tspan font-style="italic">p</tspan></text>
<text x="636.00" y="372.30" style="font-size:39.00px;">N 1<tspan font-style="italic">s</tspan></text>
<text x="765.00" y="362.90" style="font-size:39.00px;">C 1<tspan font-style="italic">s</tspan></text>
<text x="604.00" y="442.40" style="font-size:39.00px;">Ca 2<tspan font-style="italic">s</tspan></text>
<text x="824.00" y="437.20" style="font-size:39.00px;">S 2<tspan font-style="italic">p</tspan></text>
<text x="510.00" y="514.50" style="font-size:39.00px;">O 1<tspan font-style="italic">s</tspan></text>
<text x="603.50" y="610.40" style="font-size:39.00px;">Ca 2<tspan font-style="italic">s</tspan></text>
<text x="757.50" y="610.80" style="font-size:39.00px;">C 1<tspan font-style="italic">s</tspan></text>
<text x="1182.50" y="225.10" style="font-size:38.40px;">350.1eV</text>
<text x="1822.00" y="136.70" style="font-size:38.40px;">346.7eV</text>
<text x="1230.50" y="571.50" style="font-size:38.40px;">350.6eV</text>
<text x="1755.00" y="490.00" style="font-size:38.40px;">347.1eV</text>
<text x="882.50" y="75.00" style="font-size:63.40px;font-weight:bold;font-style:italic;">(a)</text>
<text x="1902.00" y="74.70" style="font-size:63.40px;font-weight:bold;font-style:italic;">(b)</text>
<text x="368.00" y="847.60" style="font-size:39.00px;">Binding Energy/eV</text>
<text x="1362.00" y="848.00" style="font-size:38.65px;">Binding Energy(eV)</text>
<text style="font-size:39.6px" transform="translate(28.9,439.5) rotate(-90)">Intensity</text>
<text style="font-size:39px" transform="translate(1048.5,474) rotate(-90)">Intensity(a.u.)</text>
</svg></body></html>
